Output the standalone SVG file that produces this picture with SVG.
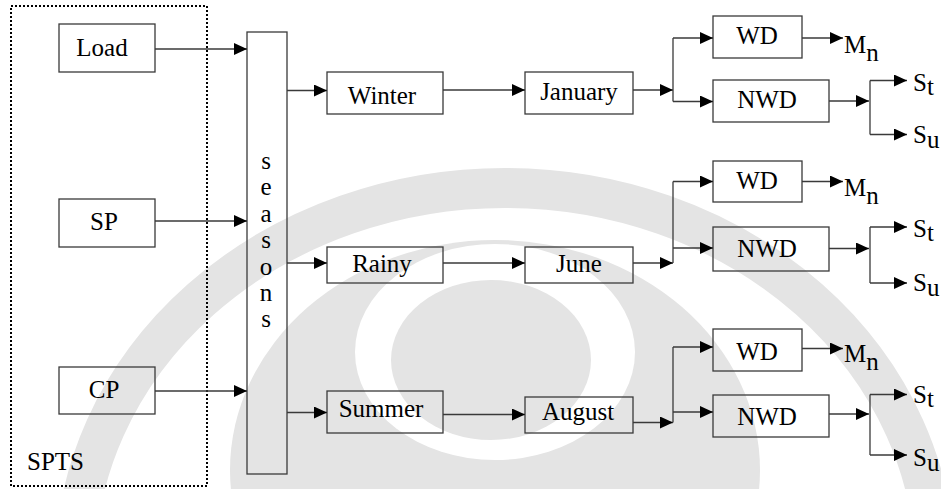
<svg xmlns="http://www.w3.org/2000/svg" width="941" height="489" viewBox="0 0 941 489">
<defs>
<marker id="ah" markerUnits="userSpaceOnUse" markerWidth="13" markerHeight="12" refX="13" refY="6" orient="auto">
<path d="M0,0 L13,6 L0,12 z" fill="#000"/>
</marker>
</defs>
<rect width="941" height="489" fill="#fff"/>
<g id="watermark" fill="#e4e4e4">
<ellipse cx="505" cy="568" rx="430" ry="380" fill="none" stroke="#e4e4e4" stroke-width="40"/>
<ellipse cx="495" cy="470" rx="265" ry="230"/>
<ellipse cx="495" cy="352" rx="140" ry="108" fill="#fff"/>
<ellipse cx="491" cy="360" rx="100" ry="80"/>
</g>
<g id="spts">
<rect x="11" y="6" width="196" height="480" fill="none" stroke="#000" stroke-width="2" stroke-dasharray="2,2"/>
<text x="27" y="470" font-family="Liberation Serif" font-size="25">SPTS</text>
</g>
<g id="boxes" fill="none" stroke="#3a3a3a" stroke-width="1.3">
<rect id="load-box" x="59" y="24" width="96" height="48"/>
<rect id="sp-box" x="59" y="199" width="96" height="48"/>
<rect id="cp-box" x="59" y="367" width="96" height="47"/>
<rect id="seasons-box" x="247" y="32" width="40" height="442"/>
<rect id="winter-box" x="327" y="72" width="116" height="42"/>
<rect id="rainy-box" x="327" y="247" width="116" height="36"/>
<rect id="summer-box" x="327" y="391" width="116" height="42"/>
<rect id="january-box" x="525" y="72" width="108" height="42"/>
<rect id="june-box" x="525" y="247" width="108" height="36"/>
<rect id="august-box" x="525" y="397" width="108" height="36"/>
<rect id="wd1-box" x="713" y="16" width="89" height="42"/>
<rect id="nwd1-box" x="713" y="80" width="116" height="42"/>
<rect id="wd2-box" x="713" y="161" width="89" height="41"/>
<rect id="nwd2-box" x="713" y="227" width="116" height="44"/>
<rect id="wd3-box" x="713" y="329" width="89" height="42"/>
<rect id="nwd3-box" x="713" y="395" width="116" height="42"/>
</g>
<g id="load"><text x="102" y="56" text-anchor="middle" font-family="Liberation Serif" font-size="25">Load</text></g>
<g id="sp"><text x="104" y="230" text-anchor="middle" font-family="Liberation Serif" font-size="25">SP</text></g>
<g id="cp"><text x="104" y="398" text-anchor="middle" font-family="Liberation Serif" font-size="25">CP</text></g>
<g id="seasons">
<text x="266" y="168.5" text-anchor="middle" font-family="Liberation Serif" font-size="25">s</text>
<text x="266" y="195" text-anchor="middle" font-family="Liberation Serif" font-size="25">e</text>
<text x="266" y="221.5" text-anchor="middle" font-family="Liberation Serif" font-size="25">a</text>
<text x="266" y="248" text-anchor="middle" font-family="Liberation Serif" font-size="25">s</text>
<text x="266" y="274.5" text-anchor="middle" font-family="Liberation Serif" font-size="25">o</text>
<text x="266" y="300.5" text-anchor="middle" font-family="Liberation Serif" font-size="25">n</text>
<text x="266" y="327" text-anchor="middle" font-family="Liberation Serif" font-size="25">s</text>
</g>
<g id="winter"><text x="382" y="104" text-anchor="middle" font-family="Liberation Serif" font-size="25">Winter</text></g>
<g id="rainy"><text x="382" y="272" text-anchor="middle" font-family="Liberation Serif" font-size="25">Rainy</text></g>
<g id="summer"><text x="381" y="417" text-anchor="middle" font-family="Liberation Serif" font-size="25">Summer</text></g>
<g id="january"><text x="579" y="100" text-anchor="middle" font-family="Liberation Serif" font-size="25">January</text></g>
<g id="june"><text x="579" y="272" text-anchor="middle" font-family="Liberation Serif" font-size="25">June</text></g>
<g id="august"><text x="578" y="420" text-anchor="middle" font-family="Liberation Serif" font-size="25">August</text></g>
<g id="wd1"><text x="757" y="44" text-anchor="middle" font-family="Liberation Serif" font-size="25">WD</text></g>
<g id="nwd1"><text x="767" y="108" text-anchor="middle" font-family="Liberation Serif" font-size="25">NWD</text></g>
<g id="wd2"><text x="757" y="189" text-anchor="middle" font-family="Liberation Serif" font-size="25">WD</text></g>
<g id="nwd2"><text x="767" y="257" text-anchor="middle" font-family="Liberation Serif" font-size="25">NWD</text></g>
<g id="wd3"><text x="757" y="360" text-anchor="middle" font-family="Liberation Serif" font-size="25">WD</text></g>
<g id="nwd3"><text x="767" y="425" text-anchor="middle" font-family="Liberation Serif" font-size="25">NWD</text></g>
<g id="mn1"><text x="844" y="53" font-family="Liberation Serif" font-size="25">M<tspan dy="8">n</tspan></text></g>
<g id="mn2"><text x="844" y="196" font-family="Liberation Serif" font-size="25">M<tspan dy="8">n</tspan></text></g>
<g id="mn3"><text x="844" y="362" font-family="Liberation Serif" font-size="25">M<tspan dy="8">n</tspan></text></g>
<g id="st1"><text x="913" y="91" font-family="Liberation Serif" font-size="25">S<tspan dy="4">t</tspan></text></g>
<g id="su1"><text x="913" y="143" font-family="Liberation Serif" font-size="25">S<tspan dy="5">u</tspan></text></g>
<g id="st2"><text x="913" y="237" font-family="Liberation Serif" font-size="25">S<tspan dy="4">t</tspan></text></g>
<g id="su2"><text x="913" y="291" font-family="Liberation Serif" font-size="25">S<tspan dy="5">u</tspan></text></g>
<g id="st3"><text x="913" y="403" font-family="Liberation Serif" font-size="25">S<tspan dy="4">t</tspan></text></g>
<g id="su3"><text x="913" y="466" font-family="Liberation Serif" font-size="25">S<tspan dy="5">u</tspan></text></g>
<g id="connectors" fill="none" stroke="#3a3a3a" stroke-width="1.3">
<path marker-end="url(#ah)" d="M155,49 H247"/>
<path marker-end="url(#ah)" d="M155,221 H247"/>
<path marker-end="url(#ah)" d="M155,391 H247"/>
<path marker-end="url(#ah)" d="M287,90.5 H327"/>
<path marker-end="url(#ah)" d="M287,263 H327"/>
<path marker-end="url(#ah)" d="M287,412.5 H327"/>
<path marker-end="url(#ah)" d="M443,90 H525"/>
<path marker-end="url(#ah)" d="M443,263 H525"/>
<path marker-end="url(#ah)" d="M443,414.5 H525"/>
<path marker-end="url(#ah)" d="M633,90 H673"/>
<path d="M673,38 V101.5"/>
<path marker-end="url(#ah)" d="M673,38 H713"/>
<path marker-end="url(#ah)" d="M673,101.5 H713"/>
<path marker-end="url(#ah)" d="M802,38 H843"/>
<path marker-end="url(#ah)" d="M829,101 H869"/>
<path d="M870,80.5 V134.5"/>
<path marker-end="url(#ah)" d="M870,80.5 H907"/>
<path marker-end="url(#ah)" d="M870,134.5 H907"/>
<path marker-end="url(#ah)" d="M633,263 H673"/>
<path d="M673,181.5 V263"/>
<path marker-end="url(#ah)" d="M673,181.5 H713"/>
<path marker-end="url(#ah)" d="M673,248 H713"/>
<path marker-end="url(#ah)" d="M802,181.5 H843"/>
<path marker-end="url(#ah)" d="M829,248.5 H869"/>
<path d="M870,227 V283"/>
<path marker-end="url(#ah)" d="M870,227 H907"/>
<path marker-end="url(#ah)" d="M870,283 H907"/>
<path marker-end="url(#ah)" d="M633,422.5 H673"/>
<path d="M673,347 V422.5"/>
<path marker-end="url(#ah)" d="M673,347 H713"/>
<path marker-end="url(#ah)" d="M673,412 H713"/>
<path marker-end="url(#ah)" d="M802,348.5 H843"/>
<path marker-end="url(#ah)" d="M829,414 H869"/>
<path d="M870,394.5 V455"/>
<path marker-end="url(#ah)" d="M870,394.5 H907"/>
<path marker-end="url(#ah)" d="M870,455 H907"/>
</g>
</svg>
